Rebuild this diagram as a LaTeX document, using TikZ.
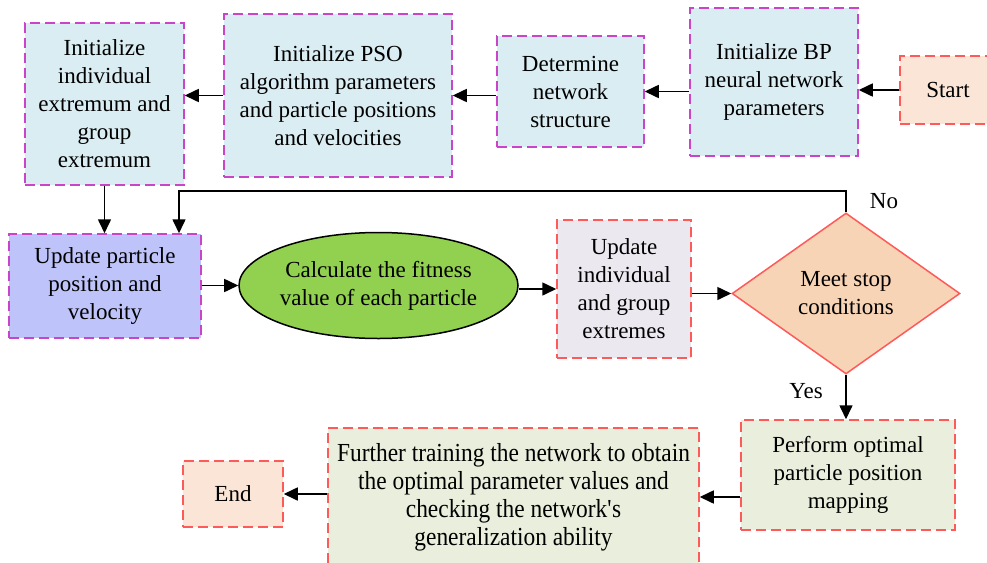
\documentclass[tikz,border=0pt]{standalone}
\usepackage{fontspec}
\setmainfont{Liberation Serif}
\usetikzlibrary{shapes.geometric,arrows.meta}
\definecolor{lblue}{HTML}{DAEDF3}
\definecolor{magb}{HTML}{C944C9}
\definecolor{redb}{HTML}{FF5A5A}
\definecolor{peach}{HTML}{FBE5D6}
\definecolor{lav}{HTML}{BEC3FA}
\definecolor{fgreen}{HTML}{92D050}
\definecolor{lgray}{HTML}{ECE8F0}
\definecolor{dpeach}{HTML}{F8D4B6}
\definecolor{lgreen}{HTML}{E9EFDC}
\tikzset{
  box/.style={rectangle, inner sep=0pt, align=center, line width=0.75pt, dash pattern=on 5pt off 2.5pt},
  magbox/.style={box, draw=magb, fill=lblue},
  redbox/.style={box, draw=redb},
  arr/.style={draw=black, line width=0.8pt, -{Triangle[length=7pt,width=6.5pt]}},
  lbl/.style={inner sep=0pt}
}
\begin{document}
\begin{tikzpicture}[x=0.5pt,y=-0.5pt,font=\fontsize{11.5}{14}\selectfont]
\useasboundingbox (0,0) rectangle (987,563);
\clip (0,0) rectangle (987,563);
% row 1
\node[magbox, minimum width=79.5pt, minimum height=81pt] (init) at (104.5,104) {Initialize\\individual\\extremum and\\group\\extremum};
\node[magbox, minimum width=114pt, minimum height=81.5pt] (pso) at (338,95.5) {Initialize PSO\\algorithm parameters\\and particle positions\\and velocities};
\node[magbox, minimum width=73.5pt, minimum height=55.5pt] (det) at (570.5,91.5) {Determine\\network\\structure};
\node[magbox, minimum width=84pt, minimum height=74pt] (bp) at (774,82) {Initialize BP\\neural network\\parameters};
\node[redbox, fill=peach, minimum width=48pt, minimum height=34pt] (start) at (948,90) {Start};
% row 2
\node[box, draw=magb, fill=lav, minimum width=96pt, minimum height=52pt] (upd) at (105,286) {Update particle\\position and\\velocity};
\node[ellipse, draw=black, line width=0.75pt, fill=fgreen, inner sep=0pt, minimum width=131.5pt, minimum height=53pt, align=center] (fit) at (378.5,285.5) {Calculate the fitness\\value of each particle};
\node[redbox, fill=lgray, minimum width=67pt, minimum height=69pt] (ext) at (624,289) {Update\\individual\\and group\\extremes};
\node[diamond, draw=redb, line width=0.75pt, fill=dpeach, inner sep=0pt, minimum width=114pt, minimum height=80.5pt, align=center] (dia) at (846,293.5) {Meet stop\\conditions};
% row 3
\node[redbox, fill=lgreen, minimum width=107pt, minimum height=55pt] (perf) at (848,475) {Perform optimal\\particle position\\mapping};
\node[redbox, fill=lgreen, minimum width=185.5pt, minimum height=69pt, font=\fontsize{13}{14}\addfontfeature{FakeStretch=0.9}\selectfont] (fur) at (513.5,497) {Further training the network to obtain\\the optimal parameter values and\\checking the network\textquotesingle s\\generalization ability};
\node[redbox, fill=peach, minimum width=50pt, minimum height=33pt] (end) at (233,494) {End};
% labels
\node[lbl] (no) at (884,201) {No};
\node[lbl] (yes) at (806,391) {Yes};
% connectors
\draw[arr] (start.west) -- (start.west -| bp.east);
\draw[arr] (bp.west |- det.east) -- (det.east);
\draw[arr] (det.west |- pso.east) -- (pso.east);
\draw[arr] (pso.west) -- (pso.west -| init.east);
\draw[arr] (init.south) -- (init.south |- upd.north);
\draw[arr] (upd.east |- fit.west) -- (fit.west);
\draw[arr] (fit.east |- ext.west) -- (ext.west);
\draw[arr] (ext.east |- dia.west) -- (dia.west);
\coordinate (loopc) at (179,191);
\draw[arr] (dia.north) |- (loopc) -- (loopc |- upd.north);
\draw[arr] (dia.south) -- (dia.south |- perf.north);
\draw[arr] (perf.west |- fur.east) -- (fur.east);
\draw[arr] (fur.west |- end.east) -- (end.east);
\end{tikzpicture}
\end{document}
